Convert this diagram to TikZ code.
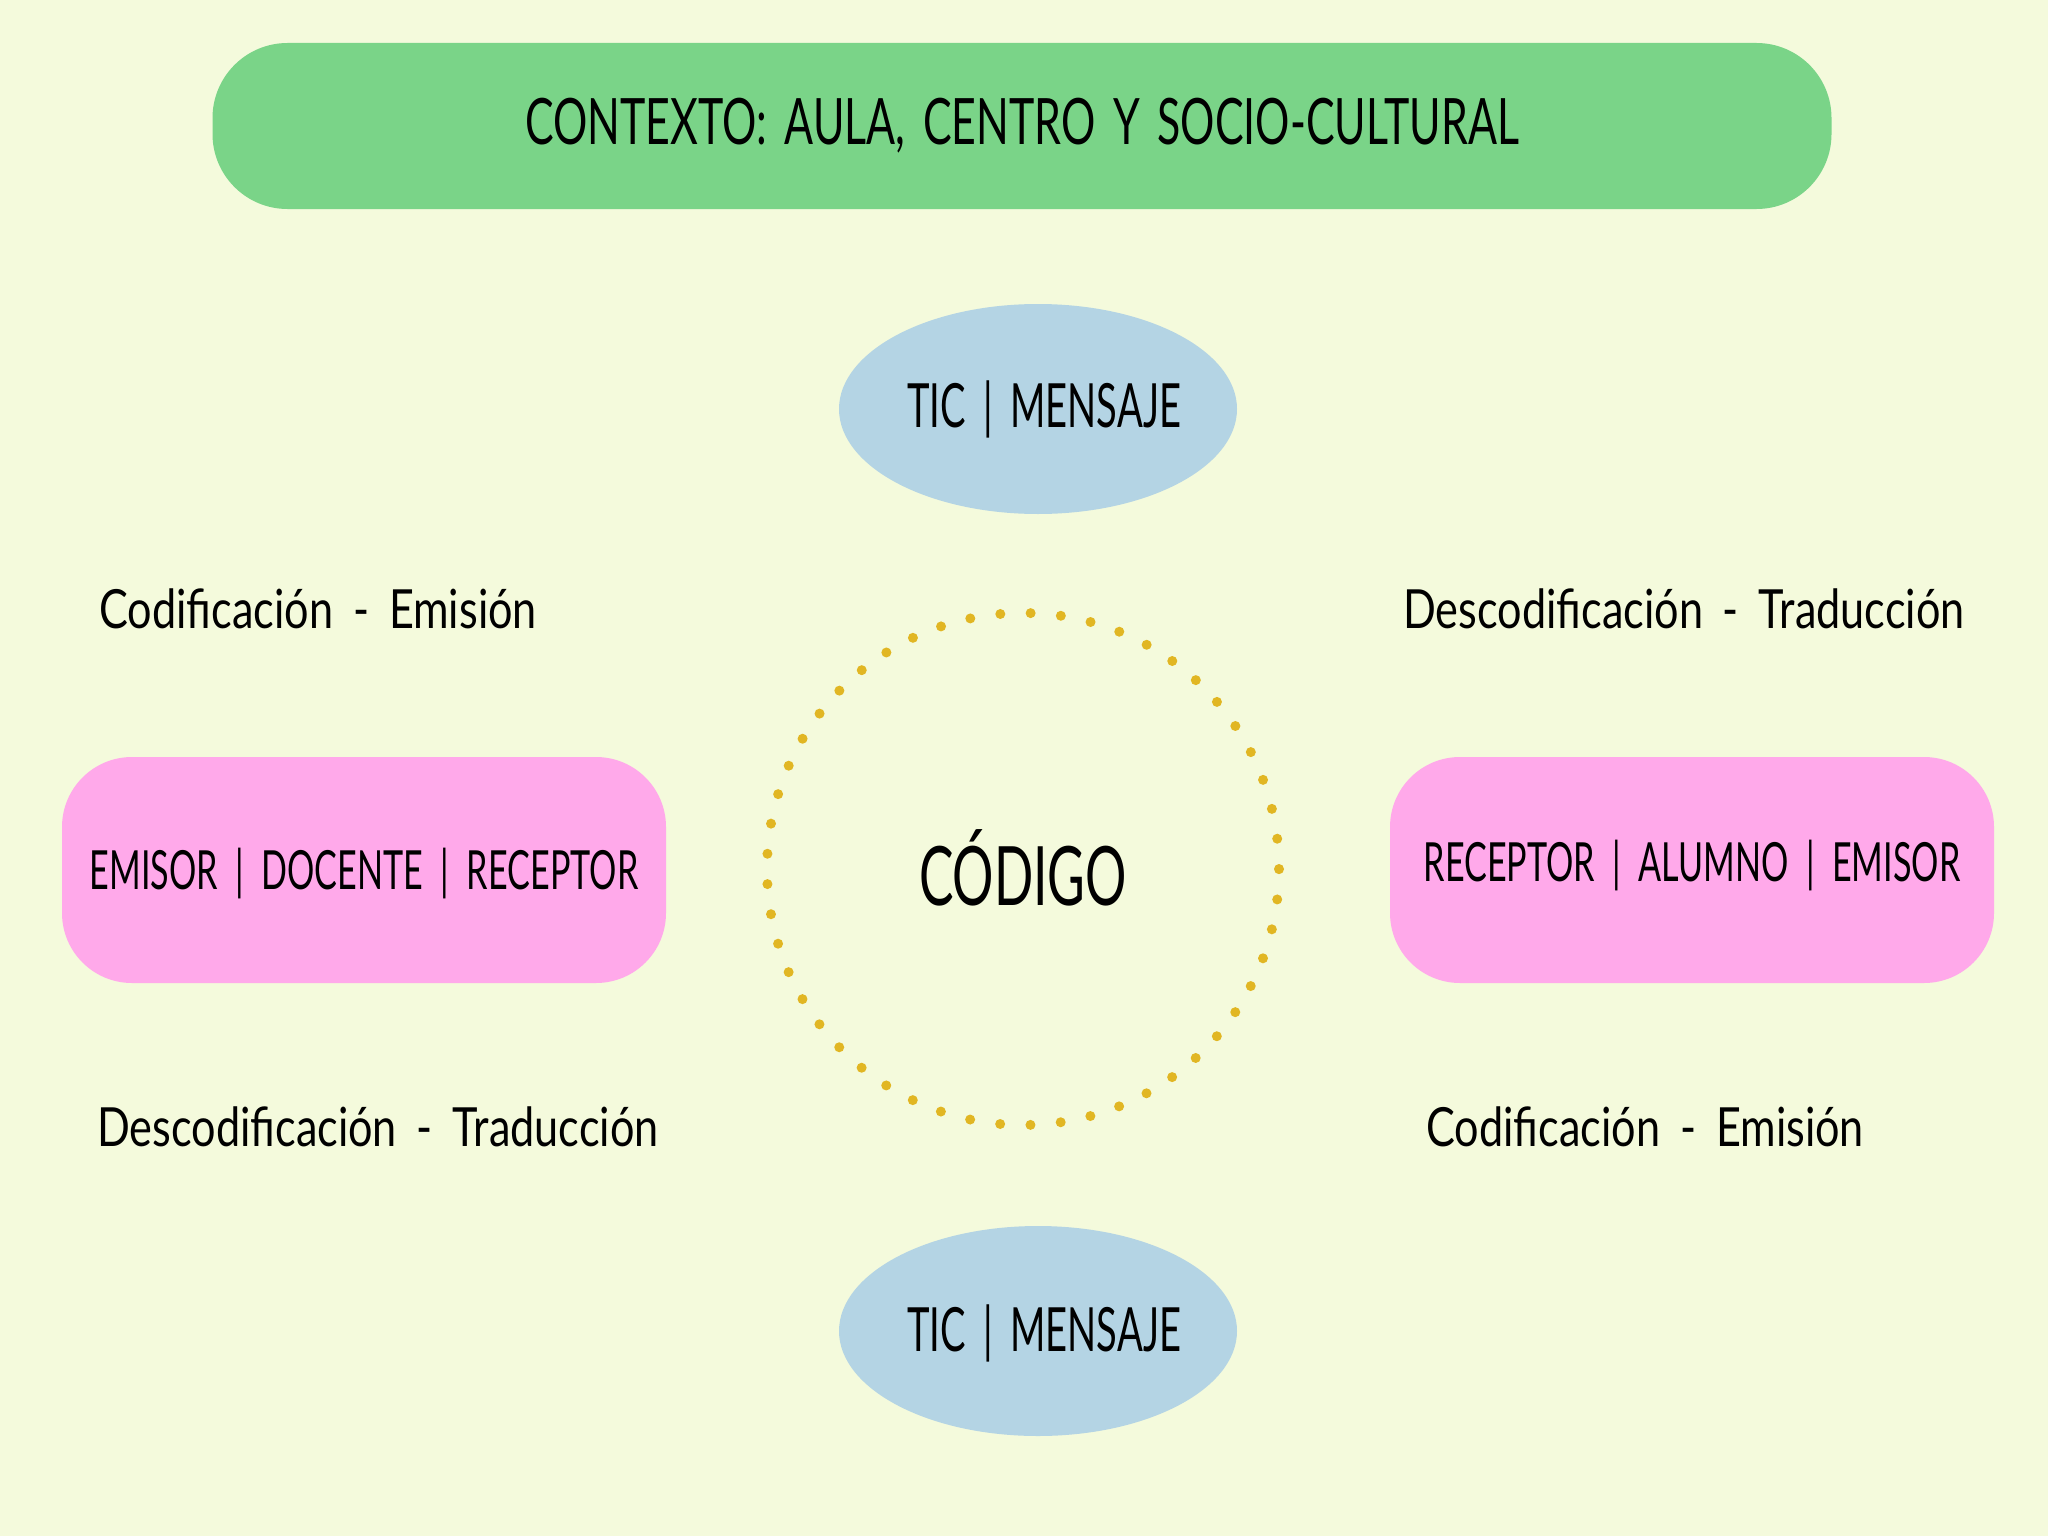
\documentclass[tikz,border=0pt]{standalone}
\usepackage{fontspec}
\setmainfont[FakeStretch=0.72]{Lato}
\newfontfamily\titlefont[FakeStretch=0.67,WordSpace=1.6]{Lato}
\newfontfamily\ticfont[FakeStretch=0.625,WordSpace=1.8]{Lato}
\newfontfamily\rolefont[FakeStretch=0.632,WordSpace=2.0]{Lato}
\newfontfamily\codefont[FakeStretch=0.63]{Lato}
\newfontfamily\lblfont[FakeStretch=0.80,WordSpace=1.8]{Lato}
\usetikzlibrary{shapes.geometric}
\definecolor{bgc}{HTML}{F4FADC}
\definecolor{greenc}{HTML}{7AD488}
\definecolor{bluec}{HTML}{B4D4E4}
\definecolor{pinkc}{HTML}{FFA9EA}
\definecolor{dotc}{HTML}{E1B623}
\tikzset{
  ctxbox/.style={fill=greenc, draw=none, rounded corners=75pt, minimum width=1619pt, minimum height=166pt, inner sep=0pt},
  ticell/.style={ellipse, fill=bluec, draw=none, minimum width=398pt, minimum height=210pt, inner sep=0pt},
  tictext/.style={inner sep=0pt, font=\ticfont\fontsize{61}{66}\selectfont},
  rolebox/.style={fill=pinkc, draw=none, rounded corners=70pt, minimum width=604pt, minimum height=226pt, inner sep=0pt},
  roletext/.style={inner sep=0pt, font=\rolefont\fontsize{54}{60}\selectfont},
  lbl/.style={inner sep=0pt, font=\lblfont\fontsize{54}{60}\selectfont},
}
\begin{document}
\begin{tikzpicture}[x=1pt,y=-1pt]
\path[fill=bgc] (0,0) rectangle (2048,1536);
\useasboundingbox (0,0) rectangle (2048,1536);
\node[ctxbox, font=\titlefont\fontsize{64}{70}\selectfont] (ctx) at (1022,126) {CONTEXTO: AULA, CENTRO Y SOCIO-CULTURAL};
\node[ticell] (tictop) at (1038,409) {};
\node[tictext] (tictoptxt) at (1044,409) {TIC | MENSAJE};
\node[ticell] (ticbot) at (1038,1331) {};
\node[tictext] (ticbottxt) at (1044,1333) {TIC | MENSAJE};
\node[circle, minimum size=512pt, inner sep=0pt] (code) at (1023,869) {};
\draw[dotc, line width=10pt, line cap=round, dash pattern=on 0pt off 30.35pt] (code.center) circle (256pt);
\node[font=\codefont\fontsize{82}{90}\selectfont, inner sep=0pt] (codetxt) at (1023,868) {CÓDIGO};
\node[rolebox] (docente) at (364,870) {};
\node[roletext] (docentetxt) at (364,874) {EMISOR | DOCENTE | RECEPTOR};
\node[rolebox] (alumno) at (1692,870) {};
\node[roletext] (alumnotxt) at (1692,866) {RECEPTOR | ALUMNO | EMISOR};
\node[lbl, anchor=west] (l1) at (99,609) {Codificación - Emisión};
\node[lbl, anchor=west] (l2) at (1403,609) {Descodificación - Traducción};
\node[lbl, anchor=west] (l3) at (97,1127) {Descodificación - Traducción};
\node[lbl, anchor=west] (l4) at (1426,1127) {Codificación - Emisión};
\end{tikzpicture}
\end{document}
